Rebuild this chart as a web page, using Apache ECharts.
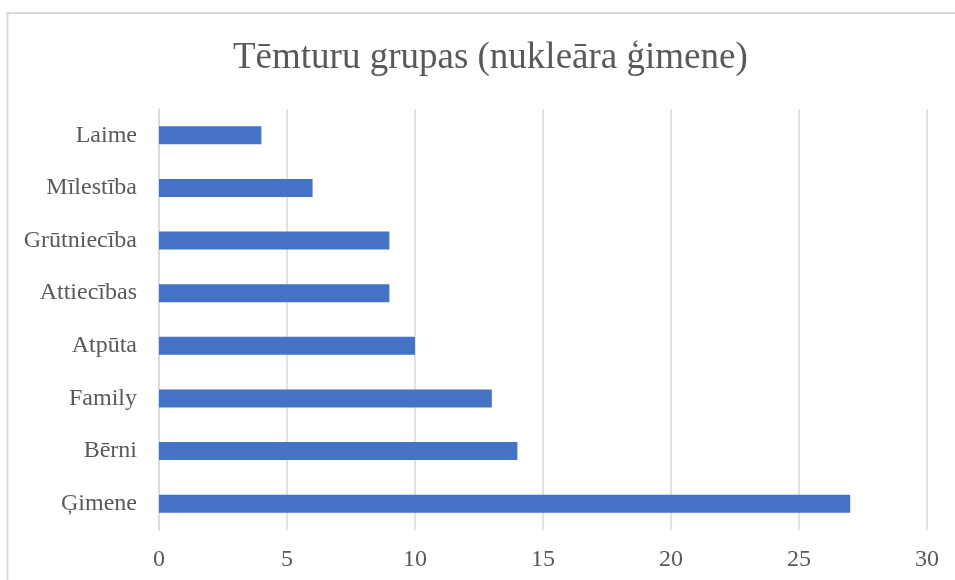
<!DOCTYPE html>
<html>
<head>
<meta charset="utf-8">
<script src="https://cdn.jsdelivr.net/npm/echarts@6/dist/echarts.min.js"></script>
<style>
html,body{margin:0;padding:0;background:#fff;}
#chart{width:955px;height:580px;}
</style>
</head>
<body>
<div id="chart"></div>
<script>
// Data (bottom-to-top order for the category axis)
const categories = ['Ģimene', 'Bērni', 'Family', 'Atpūta', 'Attiecības', 'Grūtniecība', 'Mīlestība', 'Laime'];
const values = [27, 14, 13, 10, 9, 9, 6, 4];
const xTicks = { min: 0, max: 30, interval: 5 };
const titleText = 'Tēmturu grupas (nukleāra ģimene)';

const chart = echarts.init(document.getElementById('chart'), null, { renderer: 'canvas' });
const font = '"Liberation Serif", "Times New Roman", serif';
chart.setOption({
  animation: false,
  backgroundColor: '#ffffff',
  graphic: [{
    type: 'rect',
    shape: { x: 7.5, y: 13, width: 1000, height: 700 },
    style: { fill: 'none', stroke: '#d9d9d9', lineWidth: 2 },
    silent: true
  }],
  title: {
    text: titleText,
    left: 228,
    top: 35,
    textStyle: { fontFamily: font, fontSize: 37, fontWeight: 'normal', color: '#595959' }
  },
  grid: { left: 159, right: 28, top: 109, bottom: 50, containLabel: false },
  xAxis: {
    type: 'value',
    min: xTicks.min, max: xTicks.max, interval: xTicks.interval,
    axisLine: { show: false },
    axisTick: { show: false },
    splitLine: { show: true, lineStyle: { color: '#d9d9d9', width: 1.5 } },
    axisLabel: { fontFamily: font, fontSize: 24, color: '#595959', margin: 18 }
  },
  yAxis: {
    type: 'category',
    data: categories,
    axisLine: { show: true, lineStyle: { color: '#d9d9d9', width: 1.5 } },
    axisTick: { show: false },
    axisLabel: { fontFamily: font, fontSize: 24, color: '#595959', margin: 22, padding: [4, 0, 0, 0] }
  },
  series: [{
    type: 'bar',
    data: values,
    barWidth: 18,
    itemStyle: { color: '#4472C4' }
  }]
});
</script>
</body>
</html>
